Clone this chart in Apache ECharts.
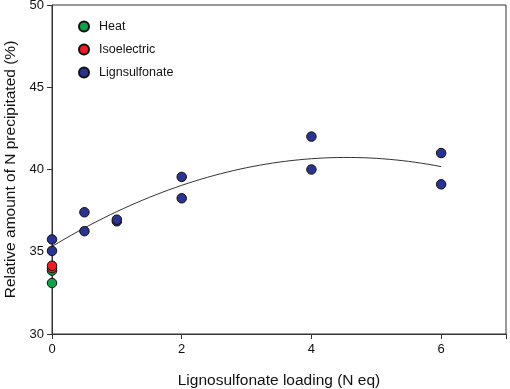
<!DOCTYPE html>
<html>
<head>
<meta charset="utf-8">
<script src="https://cdn.jsdelivr.net/npm/echarts@6/dist/echarts.min.js"></script>
<style>
  html, body { margin: 0; padding: 0; background: #fff; }
  #main { width: 510px; height: 389px; }
</style>
</head>
<body>
<div id="main"></div>
<script>
// values
var heatX = [0, 0];
var heatY = [33.1, 33.85];
var isoX = [0, 0];
var isoY = [34.0, 34.15];
var ligX = [0, 0, 0.5, 0.5, 1, 1, 2, 2, 4, 4, 6, 6];
var ligY = [35.75, 35.05, 36.25, 37.4, 36.85, 36.95, 39.55, 38.25, 42.0, 40.0, 41.0, 39.1];
var xTicks = [0, 2, 4, 6];

function pairs(xs, ys) {
    var out = [];
    for (var i = 0; i < xs.length; i++) out.push([xs[i], ys[i]]);
    return out;
}

// quadratic least squares fit through the lignosulfonate points
function quadFit(xs, ys) {
    var s = [0, 0, 0, 0, 0], t = [0, 0, 0];
    for (var i = 0; i < xs.length; i++) {
        var p = 1;
        for (var k = 0; k < 5; k++) { s[k] += p; if (k < 3) t[k] += p * ys[i]; p *= xs[i]; }
    }
    var m = [[s[0], s[1], s[2], t[0]], [s[1], s[2], s[3], t[1]], [s[2], s[3], s[4], t[2]]];
    for (var c = 0; c < 3; c++) {
        for (var r = c + 1; r < 3; r++) {
            var f = m[r][c] / m[c][c];
            for (var j = c; j < 4; j++) m[r][j] -= f * m[c][j];
        }
    }
    var b = [0, 0, 0];
    for (var r2 = 2; r2 >= 0; r2--) {
        var v = m[r2][3];
        for (var j2 = r2 + 1; j2 < 3; j2++) v -= m[r2][j2] * b[j2];
        b[r2] = v / m[r2][r2];
    }
    return b;
}

var coef = quadFit(ligX, ligY);
var fitLine = [];
for (var i = 0; i <= 60; i++) {
    var x = i / 10;
    fitLine.push([x, coef[0] + coef[1] * x + coef[2] * x * x]);
}

var font = 'Liberation Sans, Arial, sans-serif';
var myChart = echarts.init(document.getElementById('main'));

function dots(name, color, data) {
    return {
        name: name,
        type: 'scatter',
        data: data,
        symbol: 'circle',
        symbolSize: 9.5,
        z: 3,
        itemStyle: { color: color, borderColor: '#111', borderWidth: 1, opacity: 1 }
    };
}

myChart.setOption({
    animation: false,
    backgroundColor: '#fff',
    grid: {
        left: 52, right: 4, top: 5, bottom: 55,
        outerBoundsMode: 'none',
        show: true, borderColor: '#333', borderWidth: 1
    },
    legend: {
        orient: 'vertical',
        left: 73,
        top: 15,
        itemGap: 10,
        itemWidth: 10,
        itemHeight: 10,
        icon: 'circle',
        textStyle: { fontFamily: font, fontSize: 12.5, color: '#111', padding: [0, 0, 0, 5] },
        data: ['Heat', 'Isoelectric', 'Lignsulfonate']
    },
    xAxis: {
        type: 'value',
        min: 0, max: 7, interval: 2,
        name: 'Lignosulfonate loading (N eq)',
        nameLocation: 'middle',
        nameGap: 39,
        nameTextStyle: { fontFamily: font, fontSize: 15.5, color: '#111' },
        axisLine: { lineStyle: { color: '#333' } },
        axisTick: { inside: false, length: 5, lineStyle: { color: '#333' } },
        axisLabel: {
            fontFamily: font, fontSize: 13, color: '#111', margin: 9,
            formatter: function (v) { return xTicks.indexOf(v) >= 0 ? String(v) : ''; }
        },
        splitLine: { show: false }
    },
    yAxis: {
        type: 'value',
        min: 30, max: 50, interval: 5,
        name: 'Relative amount of N precipitated (%)',
        nameLocation: 'middle',
        nameGap: 32,
        nameTextStyle: { fontFamily: font, fontSize: 15.5, color: '#111' },
        axisLine: { lineStyle: { color: '#333' } },
        axisTick: { length: 5, lineStyle: { color: '#333' } },
        axisLabel: { fontFamily: font, fontSize: 13, color: '#111', margin: 8 },
        splitLine: { show: false }
    },
    series: [
        {
            name: 'fit',
            type: 'line',
            data: fitLine,
            showSymbol: false,
            smooth: false,
            z: 2,
            lineStyle: { color: '#333', width: 1 }
        },
        dots('Heat', '#0fa04b', pairs(heatX, heatY)),
        dots('Isoelectric', '#ee1c24', pairs(isoX, isoY)),
        dots('Lignsulfonate', '#2b3390', pairs(ligX, ligY))
    ]
});
</script>
</body>
</html>
